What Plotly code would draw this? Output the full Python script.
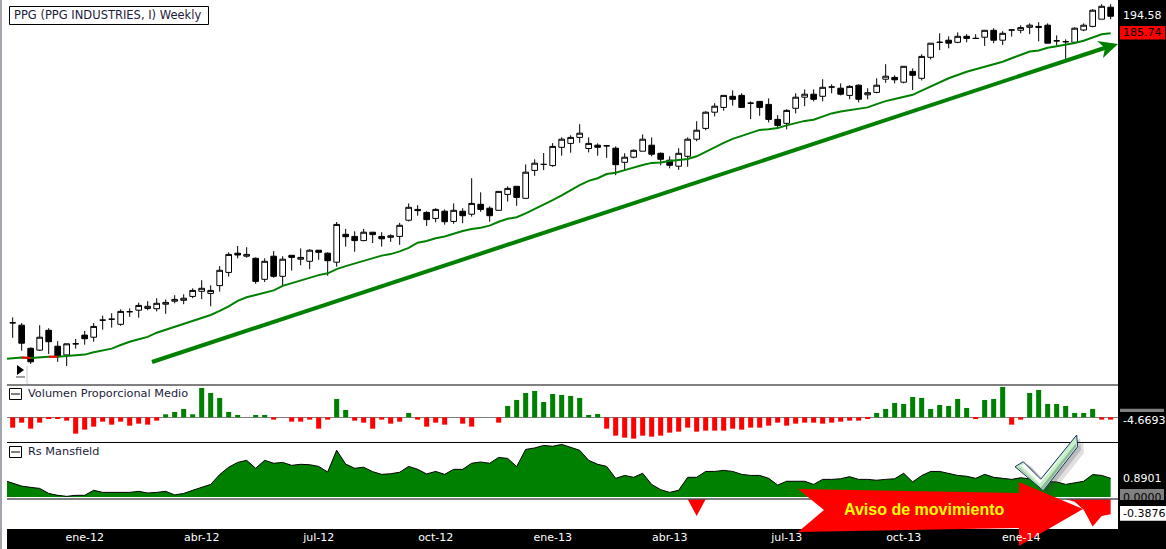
import pandas as pd
import plotly.graph_objects as go

ANCHO = 1166
ALTO = 549

# semanas: la primera solo sirve para que media y RS entren por el borde izquierdo
fechas = pd.date_range('2011-10-31', periods=124, freq='7D')

apertura = [92.4,91.6,83.9,83.3,89.9,84.6,81.7,85.4,88.3,87.6,
    93.3,93.6,91.9,96.1,96.6,97.2,97.1,98.6,99.6,99.9,
    101.2,102.9,102.2,104.8,109.2,115.6,114.6,113.9,106.9,114.6,
    107.9,114.9,113.6,112.9,116.6,115.6,112.6,121.9,121.2,119.8,
    122.6,121.2,120.9,121.2,126.6,130.2,129.2,127.2,129.6,126.2,
    129.6,128.6,131.9,130.6,129.9,135.2,137.9,133.9,143.2,145.2,
    144.8,150.9,152.2,154.2,150.5,151.6,151.4,150.6,145.9,147.6,
    149.6,151.6,148.9,146.6,144.6,147.9,153.6,157.2,162.6,164.2,
    167.9,168.2,165.6,166.2,165.2,160.2,158.9,163.9,167.6,168.6,
    167.9,171.0,170.6,168.2,171.6,168.4,169.2,173.6,174.2,172.6,
    176.2,173.9,180.9,185.9,186.6,185.9,187.9,187.2,187.6,189.9,
    186.6,190.0,189.9,190.9,191.2,191.6,186.4,186.1,185.9,190.0,
    191.2,193.6,197.6]
maximo = [94.2,92.3,84.2,91.6,90.6,86.3,85.4,87.0,89.7,92.3,
    94.8,95.6,96.9,97.2,99.1,99.6,100.6,100.2,101.6,101.9,
    103.9,106.6,104.9,111.3,115.9,118.0,117.6,114.2,113.9,116.3,
    114.6,114.9,117.2,116.9,116.6,115.9,126.0,123.7,122.9,123.7,
    122.6,122.6,121.9,125.7,132.2,131.6,129.6,130.6,130.2,132.2,
    130.6,140.6,135.9,131.2,136.2,137.9,137.9,145.2,146.9,149.0,
    152.3,154.2,154.9,158.6,154.2,152.2,151.4,151.2,148.9,150.2,
    155.2,154.2,149.2,147.9,150.6,154.2,159.6,162.9,165.6,168.2,
    169.9,168.9,166.2,166.2,167.2,161.6,163.6,168.9,170.2,170.2,
    173.6,171.9,172.2,171.6,171.9,170.6,173.9,178.6,174.9,177.9,
    177.2,181.9,185.6,188.9,187.9,189.2,188.6,188.6,189.9,190.6,
    189.6,190.2,191.6,192.2,192.6,192.2,188.2,186.9,190.9,192.2,
    196.9,198.6,198.6]
minimo = [87.4,83.1,78.7,83.0,82.0,79.4,78.0,83.8,85.1,86.1,
    90.1,90.8,91.4,94.4,94.1,96.6,96.2,95.4,98.9,98.6,
    100.6,100.3,97.9,102.8,107.8,113.9,114.1,105.4,106.0,107.4,
    105.0,109.8,111.6,110.3,113.4,108.1,111.1,117.8,116.1,119.6,
    119.0,117.8,119.4,118.4,126.2,128.1,124.7,125.9,125.1,125.4,
    125.6,127.8,129.4,126.1,129.9,132.8,131.4,133.9,141.4,143.3,
    144.4,148.1,149.1,152.4,149.2,148.1,147.4,141.6,143.3,147.2,
    149.6,147.9,144.9,143.9,143.4,144.4,152.9,156.6,161.2,163.1,
    164.8,164.2,160.3,161.4,159.2,157.2,156.9,162.2,164.6,166.2,
    166.2,168.9,168.2,166.9,165.9,166.9,168.9,172.4,172.2,172.2,
    170.0,173.2,180.2,183.3,183.9,185.6,185.9,187.2,184.7,185.6,
    185.0,187.8,188.9,188.6,186.2,185.6,184.9,180.2,185.6,189.6,
    190.9,193.6,193.6]
cierre = [92.4,85.6,79.4,87.6,86.1,81.3,85.4,85.4,87.1,91.2,
    93.3,93.6,96.2,96.1,98.2,97.9,98.9,99.2,100.2,100.6,
    103.2,103.9,103.2,109.9,115.2,115.0,115.2,106.2,112.9,107.9,
    113.6,114.2,114.2,116.6,115.9,113.1,125.2,121.1,119.8,122.6,
    121.8,120.4,121.4,124.9,130.9,129.8,126.8,130.2,126.1,129.9,
    128.1,132.2,130.2,128.1,136.2,137.2,134.2,142.6,145.6,145.2,
    151.2,153.6,154.2,155.6,152.2,150.9,151.4,145.1,147.6,149.9,
    153.6,148.6,146.9,144.9,148.9,153.6,156.6,162.6,164.6,168.2,
    166.9,164.2,165.6,164.2,160.2,158.2,163.2,167.6,168.6,166.9,
    170.9,171.0,168.6,171.2,166.9,169.1,171.6,174.6,173.4,177.9,
    174.9,181.2,185.6,185.9,185.6,187.9,187.2,187.2,189.9,186.6,
    188.9,190.0,190.8,191.6,190.9,185.6,186.4,186.1,190.6,191.6,
    196.6,197.9,194.58]

media = [80.3,80.6,80.8,80.7,81.0,81.1,81.1,81.3,81.4,81.8,82.6,
    83.3,83.8,85.0,86.1,86.9,87.7,89.1,90.1,91.0,91.9,
    93.0,94.0,95.0,96.4,97.9,99.7,100.9,101.7,102.4,103.2,
    104.7,105.6,106.3,107.3,108.3,108.9,110.3,111.3,112.2,113.0,
    113.8,114.8,115.3,116.2,117.4,119.1,119.7,120.6,121.2,122.2,
    123.0,123.7,124.1,124.8,126.1,127.1,127.6,128.9,130.3,131.8,
    133.3,134.9,136.6,138.3,139.7,140.6,142.0,142.4,143.3,144.2,
    145.0,145.7,145.8,146.3,146.6,147.0,147.9,149.4,151.1,152.4,
    153.7,154.7,155.7,156.7,156.9,157.3,158.2,159.0,159.7,160.1,
    161.1,162.2,162.8,163.3,163.8,164.2,165.3,166.3,167.0,167.7,
    168.4,169.8,171.2,172.6,173.9,175.0,176.1,176.9,177.8,178.6,
    179.4,180.6,181.7,182.8,183.2,184.1,184.6,185.1,185.7,186.4,
    187.6,188.6,188.9]

volumen = [-20.7,-10.7,-22.7,-10.7,-2.7,-2.7,-6.7,-32.7,-24.7,-18.7,
    -8.7,-14.7,-8.7,-16.7,-12.7,-14.7,-6.7,6,10.7,16.7,
    6,58.7,48.7,38.7,10.7,4.7,0,4.7,4.7,-4.7,
    0,-8.7,-8.7,-4.7,-22.7,-4.7,36.7,14.7,-6.7,-10.7,
    -22.7,-4.7,-12.7,-8.7,8.7,-4.7,-18.7,-10.7,-14.7,0,
    -12.7,-18.7,0,0,-10.7,22.7,34.7,48.7,52.7,30.7,
    46.7,44.7,42.7,38.7,4.7,6.7,-22.7,-36.7,-40.7,-42.7,
    -36.7,-38.7,-36.7,-30.7,-28.7,-20.7,-28.7,-26.7,-26.7,-26.7,
    -22.7,-24.7,-20.7,-20.7,-16.7,-10.7,-16.7,-12.7,-10.7,-10.7,
    -12.7,-10.7,-8.7,-6.7,-6.7,-2.7,8.7,16.7,28.7,26.7,
    40.7,38.7,16.7,24.7,22.7,36.7,18.7,-2.7,34.7,36.7,
    60.7,-14.7,-4.7,48.7,54.7,26.7,26.7,22.7,8.7,8.7,
    16.7,-4.7,-4.6693]

rs_positivo = [0.80,.65,.52,.46,.41,.17,.08,.03,.08,.08,.32,
    .22,.22,.25,.22,.27,.19,.22,.27,.10,.17,
    .32,.45,.60,1.07,1.42,1.65,1.75,1.37,1.75,1.61,
    1.65,1.51,1.56,1.54,1.46,1.19,2.23,1.57,1.37,1.42,
    1.21,1.08,1.11,1.18,1.46,1.32,1.10,1.22,1.08,1.32,
    1.32,1.61,1.67,1.61,1.89,1.84,1.45,2.27,2.34,2.46,
    2.42,2.51,2.37,2.23,1.75,1.56,1.46,.89,1.03,.94,
    1.13,.60,.35,.22,.32,.94,.94,1.22,1.22,1.27,
    1.22,1.08,1.03,1.03,.89,.57,.75,.75,.75,.60,
    .84,.84,.87,.97,.84,.84,.80,.84,.87,1.13,
    .72,1.02,1.22,1.22,1.13,1.03,.99,.89,1.08,.94,
    .89,.84,.92,.87,.81,.73,.72,.60,.67,.75,
    1.07,1.03,.8901]
rs_negativo = [0.0]*76 + [-0.43] + [0.0]*41 + [-0.065,-0.27,-0.70,-0.43,-0.3876]

meses = ['ene-12','abr-12','jul-12','oct-12','ene-13','abr-13','jul-13','oct-13','']
fechas_meses = ['2012-01-02','2012-04-02','2012-07-02','2012-10-01','2012-12-31',
                '2013-04-01','2013-07-01','2013-09-30','2013-12-30']

VERDE = 'rgb(0,128,0)'
ROJO = 'rgb(255,0,0)'
TEXTO = '#1c1c3c'


def px(x, y):
    return x / ANCHO, 1 - y / ALTO


def rango_y(arriba, abajo):
    return [1 - abajo / ALTO, 1 - arriba / ALTO]


def poligono(puntos, relleno, linea=None, ancho=0, cerrar=True, capa='above', opacidad=1):
    trazo = []
    for i, (x, y) in enumerate(puntos):
        a, b = px(x, y)
        trazo.append(('M' if i == 0 else 'L') + f'{a:.5f} {b:.5f}')
    camino = ' '.join(trazo) + (' Z' if cerrar else '')
    return dict(type='path', xref='paper', yref='paper', path=camino, fillcolor=relleno,
                line=dict(color=linea, width=ancho), layer=capa, opacity=opacidad)


def caja(x0, y0, x1, y1, relleno='rgba(0,0,0,0)', linea=None, ancho=0, capa='above'):
    a0, b0 = px(x0, y0)
    a1, b1 = px(x1, y1)
    return dict(type='rect', xref='paper', yref='paper', x0=a0, y0=b0, x1=a1, y1=b1,
                fillcolor=relleno, line=dict(color=linea, width=ancho), layer=capa)


def texto(x, y, cadena, color=TEXTO, size=11, familia='DejaVu Sans', anchor='left'):
    a, b = px(x, y)
    fig.add_annotation(x=a, y=b, xref='paper', yref='paper', text=cadena, showarrow=False,
                       xanchor=anchor, yanchor='middle', borderpad=0,
                       font=dict(family=familia, size=size, color=color))


fig = go.Figure()

fig.add_trace(go.Scatter(x=fechas, y=media, mode='lines', yaxis='y', line=dict(color=VERDE, width=2)))
# tramos rojos de la media, donde el precio cierra por debajo
fig.add_trace(go.Scatter(x=fechas[2:4], y=media[2:4], mode='lines', yaxis='y', line=dict(color=ROJO, width=2)))
fig.add_trace(go.Scatter(x=fechas[5:7], y=media[5:7], mode='lines', yaxis='y', line=dict(color=ROJO, width=2)))
fig.add_trace(go.Candlestick(x=fechas[1:], open=apertura, high=maximo, low=minimo, close=cierre, yaxis='y',
                             increasing=dict(fillcolor='white', line=dict(color='black', width=1)),
                             decreasing=dict(fillcolor='black', line=dict(color='black', width=1))))

colores_vol = [VERDE if v > 0 else ROJO for v in volumen]
fig.add_trace(go.Bar(x=fechas[1:], y=volumen, yaxis='y2', marker=dict(color=colores_vol, line=dict(width=0))))

fig.add_trace(go.Scatter(x=fechas, y=rs_positivo, mode='lines', yaxis='y3', fill='tozeroy', fillcolor=VERDE,
                         line=dict(color='black', width=1)))
fig.add_trace(go.Scatter(x=fechas[1:], y=rs_negativo, mode='none', yaxis='y4', fill='tozeroy', fillcolor=ROJO))

eje_y = dict(showgrid=False, zeroline=False, showticklabels=False, ticks='', showline=False, anchor='x')

fig.update_layout(
    width=ANCHO, height=ALTO, autosize=False, showlegend=False,
    margin=dict(l=0, r=0, t=0, b=0, pad=0),
    paper_bgcolor='white', plot_bgcolor='white',
    bargap=0.44, boxgap=0.1,
    xaxis=dict(domain=[7 / ANCHO, 1118 / ANCHO], range=['2011-11-02 14:00', '2014-03-15 17:00'],
               anchor='y4', showgrid=False, zeroline=False, showline=False, ticks='',
               tickmode='array', tickvals=fechas_meses, ticktext=meses, tickangle=0,
               tickfont=dict(family='DejaVu Sans', size=11, color='white'),
               rangeslider=dict(visible=False)),
    yaxis=dict(domain=rango_y(0, 385), range=[71.67, 200], **eje_y),
    yaxis2=dict(domain=rango_y(386, 442), range=[-49.4, 62.6], **eje_y),
    yaxis3=dict(domain=rango_y(443, 497), range=[0, 2.576], **eje_y),
    yaxis4=dict(domain=rango_y(499.3, 529), range=[-0.766, 0], **eje_y),
)
fig.update_layout(yaxis2=dict(zeroline=True, zerolinecolor='#808080', zerolinewidth=1))

formas = [
    caja(7, 529, ANCHO, ALTO, 'black', capa='below'),
    caja(1118, 0, ANCHO, ALTO, 'black', capa='below'),
    caja(0, 0, 2, ALTO, '#a4a4ac'),
    # separadores de paneles
    poligono([(7, 385), (1118, 385)], 'rgba(0,0,0,0)', 'black', 1, cerrar=False),
    poligono([(7, 442.5), (1118, 442.5)], 'rgba(0,0,0,0)', 'black', 1, cerrar=False),
    poligono([(7, 499), (1118, 499)], 'rgba(0,0,0,0)', 'black', 1, cerrar=False),
    # caja del titulo
    caja(9.5, 6.5, 208.5, 24.5, 'white', 'black', 1),
    # botones de plegar panel
    caja(9.5, 388.5, 21.5, 399.5, 'white', 'black', 1),
    poligono([(11, 394), (20, 394)], 'rgba(0,0,0,0)', 'black', 1, cerrar=False),
    caja(9.5, 446.5, 21.5, 457.5, 'white', 'black', 1),
    poligono([(11, 452), (20, 452)], 'rgba(0,0,0,0)', 'black', 1, cerrar=False),
    # boton de reproduccion
    poligono([(17, 365), (24, 370), (17, 375)], 'black'),
    poligono([(16, 377), (25, 377)], 'rgba(0,0,0,0)', '#404040', 1, cerrar=False),
    poligono([(27, 366), (27, 384)], 'rgba(0,0,0,0)', '#c8c8c8', 1, cerrar=False),
    # flecha verde de tendencia
    poligono([(152, 362), (1106, 47.5)], 'rgba(0,0,0,0)', VERDE, 4, cerrar=False),
    poligono([(1118, 44), (1097, 41), (1105, 48), (1103, 58)], VERDE),
    # etiquetas de la derecha
    caja(1120, 26, 1165, 39.5, ROJO),
    caja(1120, 408.7, 1164, 412, '#808080'),
    caja(1120, 489, 1164, 500, '#808080'),
    caja(1120, 506, ANCHO, 520.7, 'white'),
    # flecha roja de aviso
    poligono([(798, 489), (1019, 493), (1019, 482), (1083, 509), (1019, 546), (1019, 528), (798, 532), (824, 510)], ROJO),
    # marca de verificacion: sombra, cuerpo, bisel y brillo
    poligono([(1023, 471), (1031, 466), (1048, 485), (1083, 441), (1084, 453), (1050, 496)], 'rgba(60,60,60,0.16)'),
    poligono([(1020, 469), (1028, 464), (1045, 482), (1080, 438), (1081, 450), (1047, 493)], 'rgba(60,60,60,0.22)'),
    poligono([(1015, 466.7), (1023.3, 461.7), (1040.7, 479.3), (1076.7, 435), (1077.7, 446.7), (1043.3, 490.7)],
             '#c4eec4', '#1a2a6a', 1),
    poligono([(1020, 468), (1041, 487.5), (1075.5, 444), (1076.5, 446), (1043, 489.5), (1017.5, 467)], '#8fb89a'),
    poligono([(1021, 465.5), (1040, 483.5), (1072, 444), (1041, 480), (1024, 464)], 'white'),
]
fig.update_layout(shapes=formas)

texto(13, 15.5, 'PPG (PPG INDUSTRIES, I) Weekly', size=11.5)
texto(27, 394, 'Volumen Proporcional Medio', size=11.3)
texto(27, 451, 'Rs Mansfield', size=11.3)
texto(1122, 16, '194.58', 'white')
texto(1122, 33, '185.74', 'black')
texto(1122, 420, '-4.6693', 'white')
texto(1122, 478, '0.8901', 'white')
texto(1122, 497, '0.0000', 'black')
texto(1122, 513.5, '-0.3876', 'black')
texto(924, 509, 'Aviso de movimiento', '#ffff00', 16, 'Liberation Sans', 'center')
fig.layout.annotations[-1].font.weight = 'bold'
texto(1021, 537, 'ene-14', 'white', anchor='center')

fig.write_html("out.html", config=dict(displayModeBar=False), post_script='document.body.style.margin="0";')
